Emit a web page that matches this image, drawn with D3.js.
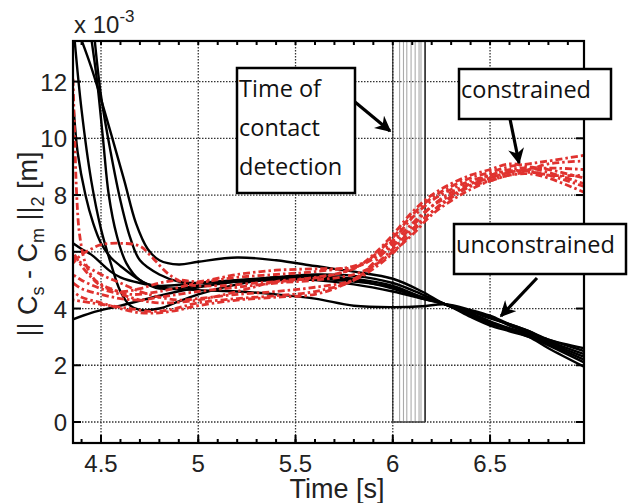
<!DOCTYPE html>
<html>
<head>
<meta charset="utf-8">
<script src="https://cdn.jsdelivr.net/npm/d3@7"></script>
<style>
  body { margin: 0; background: #fff; }
  svg { display: block; }
  .tickText { font-family: "Liberation Sans", Arial, sans-serif; font-size: 24px; fill: #222; }
  .noteText { font-family: "Open Sans", sans-serif; font-size: 23.5px; fill: #111; }
</style>
</head>
<body>
<svg id="chart" width="631" height="503"></svg>
<script>
// x domain (time, s) and y domain (x 1e-3 m)
var x_domain = [4.356, 6.983];
var y_domain = [-0.74, 13.43];
var x_ticks = [4.5, 5, 5.5, 6, 6.5];
var y_ticks = [0, 2, 4, 6, 8, 10, 12];

// time of contact detection for each trial
var contact_times = [6.0, 6.035, 6.055, 6.072, 6.094, 6.115, 6.135, 6.145, 6.166];

// unconstrained trials [time, error]
var unconstrained = [
  [[4.356,3.62],[4.45,3.85],[4.6,4.1],[4.8,4.45],[5.0,4.75],[5.2,4.95],[5.4,5.1],[5.6,5.15],[5.8,5.05],[6.0,4.8],[6.15,4.4],[6.27,4.15],[6.4,3.85],[6.5,3.55],[6.6,3.3],[6.7,3.05],[6.8,2.75],[6.983,2.2]],
  [[4.37,14],[4.45,12.5],[4.55,10.2],[4.62,8.5],[4.68,7],[4.74,6.1],[4.8,5.7],[4.9,5.55],[5.0,5.65],[5.2,5.8],[5.4,5.7],[5.6,5.5],[5.8,5.3],[6.0,5.05],[6.15,4.6],[6.27,4.15],[6.4,3.9],[6.5,3.7],[6.6,3.4],[6.7,3.15],[6.8,2.9],[6.983,2.5]],
  [[4.36,13.8],[4.4,11],[4.45,8.5],[4.5,6.8],[4.55,5.6],[4.6,4.6],[4.65,4.1],[4.7,3.95],[4.8,4.0],[4.9,4.25],[5.0,4.5],[5.2,4.85],[5.4,5.05],[5.6,5.1],[5.8,5.0],[6.0,4.7],[6.15,4.35],[6.27,4.15],[6.4,3.7],[6.5,3.4],[6.6,3.2],[6.7,3.0],[6.8,2.7],[6.983,2.1]],
  [[4.44,14],[4.48,12],[4.51,10],[4.54,8],[4.58,6.6],[4.63,5.6],[4.7,5.0],[4.8,4.75],[5.0,4.65],[5.2,4.6],[5.4,4.5],[5.6,4.35],[5.8,4.1],[6.0,4.05],[6.15,4.08],[6.27,4.15],[6.4,3.95],[6.5,3.75],[6.6,3.45],[6.7,3.2],[6.8,2.85],[6.983,2.4]],
  [[4.46,14],[4.5,11.5],[4.55,9.5],[4.6,7.8],[4.65,6.5],[4.7,5.7],[4.8,5.2],[4.9,4.95],[5.0,4.9],[5.2,5.0],[5.4,5.1],[5.6,5.2],[5.8,5.15],[6.0,4.9],[6.15,4.5],[6.27,4.15],[6.4,3.8],[6.5,3.5],[6.6,3.25],[6.7,3.0],[6.8,2.6],[6.983,1.95]],
  [[4.356,6.3],[4.4,6.1],[4.45,5.9],[4.5,5.6],[4.55,5.3],[4.6,5.1],[4.7,4.9],[4.8,4.8],[5.0,4.9],[5.2,5.0],[5.4,5.05],[5.6,5.0],[5.8,4.85],[6.0,4.6],[6.15,4.35],[6.27,4.15],[6.4,3.9],[6.5,3.65],[6.6,3.45],[6.7,3.2],[6.8,2.9],[6.983,2.6]],
  [[4.36,11],[4.38,9.5],[4.42,8],[4.46,7],[4.5,6.3],[4.55,5.8],[4.6,5.5],[4.7,5.0],[4.8,4.7],[5.0,4.8],[5.2,4.95],[5.4,5.0],[5.6,5.05],[5.8,4.95],[6.0,4.75],[6.15,4.4],[6.27,4.15],[6.4,3.75],[6.5,3.45],[6.6,3.3],[6.7,3.1],[6.8,2.8],[6.983,2.3]]
];

// constrained trials [time, error]
var constrained = [
  [[4.356,12.1],[4.365,10],[4.375,8],[4.39,6.6],[4.42,5.6],[4.47,5.0],[4.55,4.7],[4.65,4.5],[4.8,4.6],[5.0,4.9],[5.2,5.1],[5.4,5.2],[5.6,5.3],[5.8,5.5],[5.9,5.8],[6.0,6.4],[6.1,7.2],[6.2,7.8],[6.3,8.2],[6.4,8.5],[6.5,8.7],[6.6,8.9],[6.7,8.95],[6.8,8.8],[6.983,8.4]],
  [[4.356,5.6],[4.4,5.9],[4.45,6.1],[4.5,6.25],[4.6,6.3],[4.7,6.2],[4.75,5.9],[4.85,5.2],[4.95,4.85],[5.1,4.8],[5.3,4.9],[5.5,5.0],[5.7,5.2],[5.85,5.6],[6.0,6.5],[6.1,7.3],[6.2,7.9],[6.3,8.3],[6.4,8.6],[6.5,8.8],[6.6,9.0],[6.7,9.1],[6.8,9.2],[6.983,9.4]],
  [[4.356,4.6],[4.4,4.4],[4.5,4.2],[4.6,4.0],[4.7,3.85],[4.8,3.85],[4.9,3.95],[5.0,4.1],[5.2,4.3],[5.4,4.4],[5.6,4.5],[5.75,4.85],[5.9,5.5],[6.0,6.1],[6.1,6.8],[6.2,7.4],[6.3,7.9],[6.4,8.3],[6.5,8.5],[6.6,8.7],[6.7,8.75],[6.8,8.6],[6.983,8.1]],
  [[4.356,5.2],[4.4,5.0],[4.5,4.7],[4.6,4.5],[4.7,4.3],[4.8,4.2],[5.0,4.3],[5.2,4.6],[5.4,4.95],[5.6,5.1],[5.8,5.4],[5.9,5.9],[6.0,6.6],[6.1,7.4],[6.2,8.0],[6.3,8.4],[6.4,8.7],[6.5,8.9],[6.6,9.1],[6.7,9.0],[6.8,8.9],[6.983,8.6]],
  [[4.356,6.0],[4.4,5.5],[4.45,5.1],[4.5,4.8],[4.6,4.6],[4.7,4.7],[4.8,4.9],[4.9,5.0],[5.0,4.95],[5.2,5.2],[5.4,5.35],[5.6,5.4],[5.8,5.45],[5.9,5.75],[6.0,6.2],[6.1,6.9],[6.2,7.6],[6.3,8.1],[6.4,8.4],[6.5,8.6],[6.6,8.8],[6.7,8.9],[6.8,9.1],[6.983,9.2]],
  [[4.356,4.9],[4.4,4.7],[4.5,4.5],[4.6,4.35],[4.7,4.3],[4.8,4.4],[5.0,4.6],[5.2,4.75],[5.4,4.9],[5.6,5.0],[5.8,5.2],[5.9,5.5],[6.0,6.0],[6.1,6.6],[6.2,7.3],[6.3,7.8],[6.4,8.2],[6.5,8.5],[6.6,8.7],[6.7,8.8],[6.8,8.7],[6.983,8.3]],
  [[4.356,5.8],[4.4,5.6],[4.5,5.2],[4.6,4.9],[4.7,4.6],[4.8,4.4],[4.9,4.3],[5.0,4.35],[5.2,4.5],[5.4,4.6],[5.6,4.75],[5.8,5.0],[5.9,5.4],[6.0,5.95],[6.1,6.7],[6.2,7.4],[6.3,7.95],[6.4,8.35],[6.5,8.6],[6.6,8.8],[6.7,8.9],[6.8,8.95],[6.983,8.9]],
  [[4.356,4.3],[4.45,4.2],[4.55,4.1],[4.65,4.0],[4.75,3.9],[4.85,3.95],[5.0,4.2],[5.2,4.35],[5.4,4.45],[5.6,4.6],[5.8,5.0],[5.9,5.6],[6.0,6.3],[6.1,7.0],[6.2,7.6],[6.3,8.0],[6.4,8.4],[6.5,8.7],[6.6,8.85],[6.7,8.85],[6.8,8.7],[6.983,8.7]]
];

// annotation boxes
var notes = [
  {lines: ["Time of", "contact", "detection"], box: [237, 68, 118, 125], arrow: [355, 102, 390, 131]},
  {lines: ["constrained"], box: [459, 69, 152, 50], arrow: [510, 119, 519, 163]},
  {lines: ["unconstrained"], box: [454, 224, 172, 50], arrow: [537, 278, 501, 316]}
];

var border_left = 73, border_top = 41, plot_right = 584, plot_bottom = 443;

var svg = d3.select("#chart");

var x = d3.scaleLinear().domain(x_domain).range([border_left, plot_right]);
var y = d3.scaleLinear().domain(y_domain).range([plot_bottom, border_top]);

svg.append("defs").append("clipPath").attr("id", "plotClip")
    .append("rect")
    .attr("x", border_left).attr("y", border_top)
    .attr("width", plot_right - border_left).attr("height", plot_bottom - border_top);

// dotted grid
var grid = svg.append("g");
grid.selectAll(".gx").data(x_ticks).enter().append("line")
    .attr("x1", d => x(d)).attr("x2", d => x(d))
    .attr("y1", border_top).attr("y2", plot_bottom)
    .attr("stroke", "#333").attr("stroke-width", 1.3).attr("stroke-dasharray", "1.5,1.5");
grid.selectAll(".gy").data(y_ticks).enter().append("line")
    .attr("x1", border_left).attr("x2", plot_right)
    .attr("y1", d => y(d)).attr("y2", d => y(d))
    .attr("stroke", "#333").attr("stroke-width", 1.3).attr("stroke-dasharray", "1.5,1.5");

// contact detection lines
var contact = svg.append("g");
contact.selectAll("line").data(contact_times).enter().append("line")
    .attr("x1", d => x(d)).attr("x2", d => x(d))
    .attr("y1", border_top).attr("y2", y(0))
    .attr("stroke", (d, i) => (i == 0 || i == contact_times.length - 1) ? "#222" : "#aaa")
    .attr("stroke-width", (d, i) => (i == contact_times.length - 1) ? 1.6 : 1.1);
contact.append("line")
    .attr("x1", x(d3.min(contact_times))).attr("x2", x(d3.max(contact_times)))
    .attr("y1", y(0)).attr("y2", y(0))
    .attr("stroke", "#444").attr("stroke-width", 1.5);

var line = d3.line()
    .x(d => x(d[0]))
    .y(d => y(d[1]))
    .curve(d3.curveCatmullRom.alpha(0.5));

var curves = svg.append("g").attr("clip-path", "url(#plotClip)");

curves.selectAll(".unc").data(unconstrained).enter().append("path")
    .attr("class", "unc")
    .attr("d", line)
    .attr("fill", "none")
    .attr("stroke", "#000")
    .attr("stroke-width", 2.4);

curves.selectAll(".con").data(constrained).enter().append("path")
    .attr("class", "con")
    .attr("d", line)
    .attr("fill", "none")
    .attr("stroke", "#e0322f")
    .attr("stroke-width", 2.8)
    .attr("stroke-dasharray", "7,3,2.5,3")
    .attr("stroke-dashoffset", (d, i) => i * 3);

// axes box and ticks (inward, MATLAB style)
var axes = svg.append("g");
axes.append("rect")
    .attr("x", border_left).attr("y", border_top)
    .attr("width", plot_right - border_left).attr("height", plot_bottom - border_top)
    .attr("fill", "none").attr("stroke", "#000").attr("stroke-width", 2.2);

var minor_x = d3.range(4.4, 7.0, 0.1).filter(d => d < x_domain[1]);
axes.selectAll(".mx").data(minor_x).enter().append("g").each(function(d) {
    var g = d3.select(this);
    g.append("line").attr("x1", x(d)).attr("x2", x(d)).attr("y1", plot_bottom).attr("y2", plot_bottom - 4)
        .attr("stroke", "#000").attr("stroke-width", 2);
    g.append("line").attr("x1", x(d)).attr("x2", x(d)).attr("y1", border_top).attr("y2", border_top + 4)
        .attr("stroke", "#000").attr("stroke-width", 2);
});
axes.selectAll(".tx").data(x_ticks).enter().append("line")
    .attr("x1", d => x(d)).attr("x2", d => x(d))
    .attr("y1", plot_bottom).attr("y2", plot_bottom - 8)
    .attr("stroke", "#000").attr("stroke-width", 2);
axes.selectAll(".ty").data(y_ticks).enter().append("g").each(function(d) {
    var g = d3.select(this);
    g.append("line").attr("x1", border_left).attr("x2", border_left + 8).attr("y1", y(d)).attr("y2", y(d))
        .attr("stroke", "#000").attr("stroke-width", 2);
    g.append("line").attr("x1", plot_right).attr("x2", plot_right - 8).attr("y1", y(d)).attr("y2", y(d))
        .attr("stroke", "#000").attr("stroke-width", 2);
});

axes.selectAll(".xl").data(x_ticks).enter().append("text")
    .attr("class", "tickText")
    .attr("x", d => x(d)).attr("y", 472)
    .attr("text-anchor", "middle")
    .text(d => d);
axes.selectAll(".yl").data(y_ticks).enter().append("text")
    .attr("class", "tickText")
    .attr("x", 67).attr("y", d => y(d) + 9)
    .attr("text-anchor", "end")
    .text(d => d);

// exponent label
var expo = axes.append("text").attr("class", "tickText").attr("x", 74).attr("y", 33);
expo.append("tspan").text("x 10");
expo.append("tspan").attr("dy", -11).style("font-size", "17px").text("-3");

// axis labels
axes.append("text").attr("class", "tickText")
    .attr("x", 337).attr("y", 498).attr("text-anchor", "middle")
    .style("font-size", "27px")
    .text("Time [s]");

var ylab = axes.append("text").attr("class", "tickText")
    .attr("transform", "translate(37,244) rotate(-90)")
    .attr("text-anchor", "middle")
    .style("font-size", "27px");
ylab.append("tspan").text("||  C");
ylab.append("tspan").attr("dy", 7).style("font-size", "18px").text("s");
ylab.append("tspan").attr("dy", -7).text(" - C");
ylab.append("tspan").attr("dy", 7).style("font-size", "18px").text("m");
ylab.append("tspan").attr("dy", -7).text(" ||");
ylab.append("tspan").attr("dy", 7).style("font-size", "18px").text("2");
ylab.append("tspan").attr("dy", -7).text("  [m]");

// annotations
svg.append("defs").append("marker")
    .attr("id", "arrowHead")
    .attr("viewBox", "0 0 10 10")
    .attr("refX", 9).attr("refY", 5)
    .attr("markerWidth", 5).attr("markerHeight", 5)
    .attr("orient", "auto")
    .append("path").attr("d", "M0,0 L10,5 L0,10 L3,5 Z").attr("fill", "#000");

var note = svg.selectAll(".note").data(notes).enter().append("g").attr("class", "note");
note.append("rect")
    .attr("x", d => d.box[0]).attr("y", d => d.box[1])
    .attr("width", d => d.box[2]).attr("height", d => d.box[3])
    .attr("fill", "#fff").attr("stroke", "#000").attr("stroke-width", 2.5);
note.append("line")
    .attr("x1", d => d.arrow[0]).attr("y1", d => d.arrow[1])
    .attr("x2", d => d.arrow[2]).attr("y2", d => d.arrow[3])
    .attr("stroke", "#000").attr("stroke-width", 3.2)
    .attr("marker-end", "url(#arrowHead)");
note.each(function(d) {
    var g = d3.select(this);
    d.lines.forEach(function(s, k) {
        g.append("text").attr("class", "noteText")
            .attr("x", d.box[0] + 2).attr("y", d.box[1] + 29 + k * 39)
            .text(s);
    });
});
</script>
</body>
</html>
